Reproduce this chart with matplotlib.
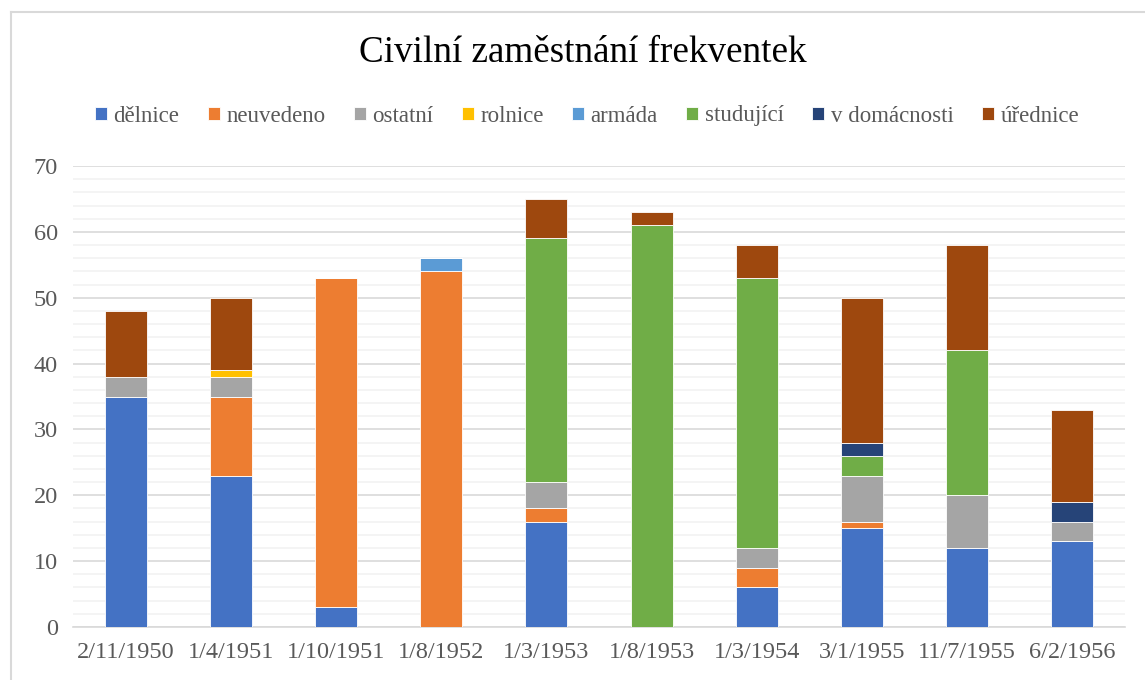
import matplotlib
matplotlib.use("Agg")
import matplotlib.pyplot as plt
import numpy as np
from matplotlib.lines import Line2D

plt.rcParams['font.family'] = ['Liberation Serif', 'DejaVu Serif']

categories = ["2/11/1950", "1/4/1951", "1/10/1951", "1/8/1952", "1/3/1953",
              "1/8/1953", "1/3/1954", "3/1/1955", "11/7/1955", "6/2/1956"]
series_names = ["dělnice", "neuvedeno", "ostatní", "rolnice", "armáda",
                "studující", "v domácnosti", "úřednice"]
delnice      = [35, 23, 3, 0, 16, 0, 6, 15, 12, 13]
neuvedeno    = [0, 12, 50, 54, 2, 0, 3, 1, 0, 0]
ostatni      = [3, 3, 0, 0, 4, 0, 3, 7, 8, 3]
rolnice      = [0, 1, 0, 0, 0, 0, 0, 0, 0, 0]
armada       = [0, 0, 0, 2, 0, 0, 0, 0, 0, 0]
studujici    = [0, 0, 0, 0, 37, 61, 41, 3, 22, 0]
v_domacnosti = [0, 0, 0, 0, 0, 0, 0, 2, 0, 3]
urednice     = [10, 11, 0, 0, 6, 2, 5, 22, 16, 14]
colors = ["#4472C4", "#ED7D31", "#A5A5A5", "#FFC000", "#5B9BD5",
          "#70AD47", "#264478", "#9E480E"]

series = [delnice, neuvedeno, ostatni, rolnice, armada, studujici, v_domacnosti, urednice]

fig = plt.figure(figsize=(11.45, 6.8), dpi=100)
ax = fig.add_axes([73/1145, 1 - 627/680, (1125-73)/1145, (627-166)/680])

x = np.arange(len(categories))
bottom = np.zeros(len(categories))
handles = []
for name, vals, c in zip(series_names, series, colors):
    vals = np.array(vals, dtype=float)
    b = ax.bar(x, vals, 0.4, bottom=bottom, color=c, edgecolor="white",
               linewidth=0.6, label=name, zorder=3)
    handles.append(b)
    bottom += vals

ax.set_xlim(-0.5, len(categories) - 0.5)
ax.set_ylim(0, 70)
ax.set_yticks(np.arange(0, 71, 10))
ax.set_yticks(np.arange(0, 71, 2), minor=True)
ax.grid(axis="y", which="major", color="#D9D9D9", linewidth=1.2, zorder=0)
ax.grid(axis="y", which="minor", color="#F2F2F2", linewidth=1.2, zorder=0)
ax.set_xticks(x)
ax.set_xticklabels(categories)
for s in ["top", "right", "left"]:
    ax.spines[s].set_visible(False)
ax.spines["bottom"].set_color("#D9D9D9")
ax.spines["bottom"].set_linewidth(1.2)
ax.tick_params(axis="both", which="both", length=0, labelsize=17.5, colors="#595959")
ax.tick_params(axis="y", pad=11)
ax.tick_params(axis="x", pad=11)
ax.set_axisbelow(True)

fig.text(583/1145, 1 - 53/680, "Civilní zaměstnání frekventek", ha="center", va="center",
         fontsize=26.7, color="black")
fig.legend(handles=handles, labels=series_names, loc="center", ncol=8,
           bbox_to_anchor=(587/1145, 1 - 116/680), frameon=False, fontsize=16.5,
           handlelength=0.52, handleheight=0.52, handletextpad=0.28, columnspacing=1.25,
           labelcolor="#595959")

# chart border (left and top edges visible, offset from image edge)
fig.add_artist(Line2D([11/1145, 11/1145], [0, 1 - 12/680], transform=fig.transFigure,
                      color="#D9D9D9", linewidth=1.5))
fig.add_artist(Line2D([11/1145, 1], [1 - 12/680, 1 - 12/680], transform=fig.transFigure,
                      color="#D9D9D9", linewidth=1.5))

fig.savefig("out.png", dpi=100)
